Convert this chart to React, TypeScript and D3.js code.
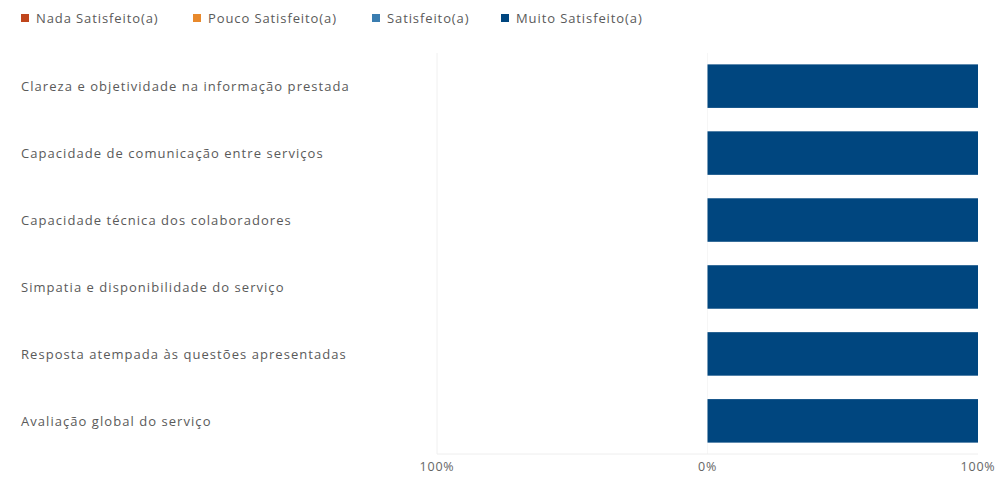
import React from "react";
import * as d3 from "d3";

const categories = [
  "Clareza e objetividade na informação prestada",
  "Capacidade de comunicação entre serviços",
  "Capacidade técnica dos colaboradores",
  "Simpatia e disponibilidade do serviço",
  "Resposta atempada às questões apresentadas",
  "Avaliação global do serviço",
];
const seriesNames = ["Nada Satisfeito(a)", "Pouco Satisfeito(a)", "Satisfeito(a)", "Muito Satisfeito(a)"];
const seriesColors = ["#c0461c", "#e8892c", "#3a7db0", "#00467f"];
const nada = [0, 0, 0, 0, 0, 0];
const pouco = [0, 0, 0, 0, 0, 0];
const satisfeito = [0, 0, 0, 0, 0, 0];
const muito = [1, 1, 1, 1, 1, 1];
const tickValues = [-1, 0, 1];
const tickLabels = ["100%", "0%", "100%"];
const legendTextX = [36, 208, 387, 516];

export default function App() {
  const W = 1003, H = 477;
  const x = d3.scaleLinear().domain([-1, 1]).range([437, 978]);
  const y = d3.scaleBand<string>().domain(categories).range([53, 454]).paddingInner(0.35).paddingOuter(0.17);
  const font = "'Open Sans', 'Segoe UI', sans-serif";
  const segs: any[] = [];
  categories.forEach((c, i) => {
    let neg = 0;
    [[pouco[i], 1], [nada[i], 0]].forEach(([v, s]) => {
      if (v > 0) segs.push({ c, x0: -(neg + v), x1: -neg, s });
      neg += v;
    });
    let pos = 0;
    [[satisfeito[i], 2], [muito[i], 3]].forEach(([v, s]) => {
      if (v > 0) segs.push({ c, x0: pos, x1: pos + v, s });
      pos += v;
    });
  });
  return (
    <svg width={W} height={H} style={{ position: "absolute", left: 0, top: 0, background: "#fff" }}>
      <g>
        {seriesNames.map((n, i) => (
          <g key={n}>
            <rect x={legendTextX[i] - 15} y={14} width={8} height={8} fill={seriesColors[i]} />
            <text x={legendTextX[i]} y={22.5} fontFamily={font} fontSize={13} letterSpacing={0.9} fill="#5a5a5a">{n}</text>
          </g>
        ))}
      </g>
      <line x1={x(-1)} x2={x(-1)} y1={53} y2={454} stroke="#f0f0f0" />
      <line x1={x(0)} x2={x(0)} y1={53} y2={454} stroke="#f6f6f6" />
      <line x1={x(-1)} x2={x(1)} y1={454} y2={454} stroke="#eeeeee" />
      {categories.map((c) => (
        <text key={c} x={21} y={(y(c) as number) + y.bandwidth() / 2 + 5} fontFamily={font} fontSize={13} letterSpacing={1.05} fill="#5a5a5a">{c}</text>
      ))}
      {segs.map((s, i) => (
        <rect key={i} x={x(s.x0)} y={y(s.c)} width={x(s.x1) - x(s.x0)} height={y.bandwidth()} fill={seriesColors[s.s]} />
      ))}
      {tickValues.map((t, i) => (
        <text key={i} x={x(t)} y={471} textAnchor="middle" fontFamily={font} fontSize={12.5} letterSpacing={0.8} fill="#666">{tickLabels[i]}</text>
      ))}
    </svg>
  );
}
